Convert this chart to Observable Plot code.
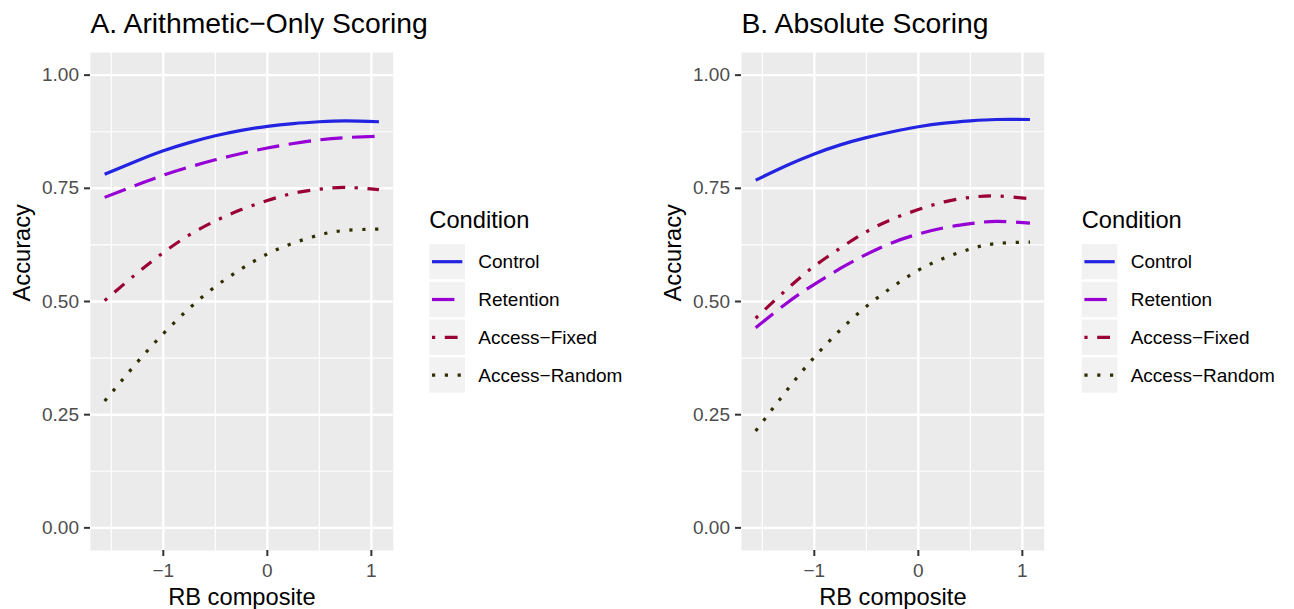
<!DOCTYPE html>
<html><head><meta charset="utf-8">
<script src="https://cdn.jsdelivr.net/npm/d3@7"></script>
<script src="https://cdn.jsdelivr.net/npm/@observablehq/plot@0.6"></script>
<style>
body{margin:0;background:#fff;}
#wrap{position:relative;width:1294px;height:609px;overflow:hidden;font-family:"Liberation Sans",Arial,Helvetica,sans-serif;}
</style></head><body><div id="wrap"></div>
<script>
// ---- data ----
const conditions = ["Control", "Retention", "Access-Fixed", "Access-Random"];
const rbComposite = [-1.564, -1.25, -1, -0.75, -0.5, -0.25, 0, 0.25, 0.5, 0.75, 1.073];

// Panel A: Arithmetic-Only Scoring
const arithControl   = [0.781, 0.811, 0.833, 0.851, 0.866, 0.878, 0.887, 0.893, 0.897, 0.899, 0.897];
const arithRetention = [0.730, 0.758, 0.779, 0.797, 0.813, 0.827, 0.839, 0.849, 0.857, 0.862, 0.865];
const arithFixed     = [0.502, 0.563, 0.608, 0.647, 0.678, 0.703, 0.723, 0.739, 0.748, 0.752, 0.747];
const arithRandom    = [0.280, 0.366, 0.429, 0.485, 0.533, 0.572, 0.605, 0.629, 0.647, 0.657, 0.660];

// Panel B: Absolute Scoring
const absControl   = [0.768, 0.802, 0.826, 0.846, 0.862, 0.875, 0.886, 0.894, 0.899, 0.902, 0.902];
const absRetention = [0.442, 0.499, 0.538, 0.573, 0.604, 0.630, 0.649, 0.663, 0.672, 0.677, 0.673];
const absFixed     = [0.463, 0.530, 0.578, 0.618, 0.654, 0.682, 0.703, 0.720, 0.730, 0.733, 0.727];
const absRandom    = [0.214, 0.308, 0.377, 0.437, 0.489, 0.532, 0.569, 0.596, 0.616, 0.628, 0.631];

const xTicks = [-1, 0, 1];
const xMinor = [-1.5, -0.5, 0.5];
const yTicks = [0, 0.25, 0.5, 0.75, 1];
const yMinor = [0.125, 0.375, 0.625, 0.875];

const panelTitles = ["A. Arithmetic\u2212Only Scoring", "B. Absolute Scoring"];
const legendLabels = ["Control", "Retention", "Access\u2212Fixed", "Access\u2212Random"];

// ---- styles ----
const colors = ["#2323E2", "#9600D4", "#9B0034", "#2E2E00"];
const dashes = [undefined, "22.4,9.6", "3.2,9.6,12.8,9.6", "3.2,9.6"];
const FONT = "'Liberation Sans', Arial, Helvetica, sans-serif";

function table(series) {
  const rows = [];
  series.forEach((vals, i) => vals.forEach((v, j) => rows.push({condition: conditions[i], x: rbComposite[j], y: v})));
  return rows;
}
const panels = [
  table([arithControl, arithRetention, arithFixed, arithRandom]),
  table([absControl, absRetention, absFixed, absRandom])
];

const fmtX = d => d < 0 ? "\u2212" + Math.abs(d) : String(d);
const fmtY = d => d.toFixed(2);

const wrap = document.getElementById("wrap");
const offsets = [0, 651];

panels.forEach((rows, p) => {
  const chart = Plot.plot({
    width: 420, height: 609,
    marginLeft: 90, marginRight: 27.3, marginTop: 52, marginBottom: 59,
    x: {domain: [-1.70, 1.21]},
    y: {domain: [-0.05, 1.05]},
    style: {background: "transparent", fontFamily: FONT, fontSize: "19px", overflow: "visible"},
    marks: [
      Plot.frame({fill: "#EBEBEB", stroke: "none"}),
      Plot.ruleX(xMinor, {stroke: "white", strokeWidth: 1.2}),
      Plot.ruleY(yMinor, {stroke: "white", strokeWidth: 1.2}),
      Plot.ruleX(xTicks, {stroke: "white", strokeWidth: 2.4}),
      Plot.ruleY(yTicks, {stroke: "white", strokeWidth: 2.4}),
      Plot.axisX(xTicks, {tickSize: 6, tickPadding: 7, tickFormat: fmtX, stroke: "#333333", strokeWidth: 2, fill: "#4D4D4D", fontSize: 19, label: null}),
      Plot.axisY(yTicks, {tickSize: 6, tickPadding: 5.5, tickFormat: fmtY, stroke: "#333333", strokeWidth: 2, fill: "#4D4D4D", fontSize: 19, label: null}),
      ...conditions.map((c, i) => Plot.line(rows.filter(r => r.condition === c), {
        x: "x", y: "y", stroke: colors[i], strokeWidth: 3.2,
        strokeDasharray: dashes[i], strokeLinecap: "butt", curve: "natural"
      })),
      Plot.text(["RB composite"], {text: d => d, frameAnchor: "bottom", dy: 54, lineAnchor: "bottom", fontSize: 23.7, fill: "black"}),
      Plot.text(["Accuracy"], {text: d => d, frameAnchor: "left", dx: -61, rotate: -90, lineAnchor: "bottom", fontSize: 23.7, fill: "black"})
    ]
  });
  chart.style.position = "absolute";
  chart.style.left = offsets[p] + "px";
  chart.style.top = "0px";
  wrap.appendChild(chart);
});

// ---- titles and legends overlay ----
const ov = d3.select(wrap).append("svg")
  .attr("width", 1294).attr("height", 609)
  .style("position", "absolute").style("left", "0px").style("top", "0px")
  .style("pointer-events", "none")
  .attr("font-family", FONT);

[90.5, 741.5].forEach((x, p) => {
  ov.append("text").attr("x", x).attr("y", 33.3).attr("font-size", 28.3).attr("fill", "black").text(panelTitles[p]);
});

[429.3, 1081.7].forEach(L => {
  const g = ov.append("g");
  g.append("text").attr("x", L).attr("y", 228.3).attr("font-size", 23.7).attr("fill", "black").text("Condition");
  legendLabels.forEach((lab, i) => {
    const top = 244 + i * 37.8;
    const cy = top + 17.7;
    g.append("rect").attr("x", L).attr("y", top).attr("width", 35.7).attr("height", 35.3).attr("fill", "#F2F2F2");
    const ln = g.append("line").attr("x1", L + 2.7).attr("x2", L + 33).attr("y1", cy).attr("y2", cy)
      .attr("stroke", colors[i]).attr("stroke-width", 3.2).attr("stroke-linecap", "butt");
    if (dashes[i]) ln.attr("stroke-dasharray", dashes[i]);
    g.append("text").attr("x", L + 49).attr("y", cy).attr("dy", "0.35em").attr("font-size", 19).attr("fill", "black").text(lab);
  });
});
</script></body></html>
